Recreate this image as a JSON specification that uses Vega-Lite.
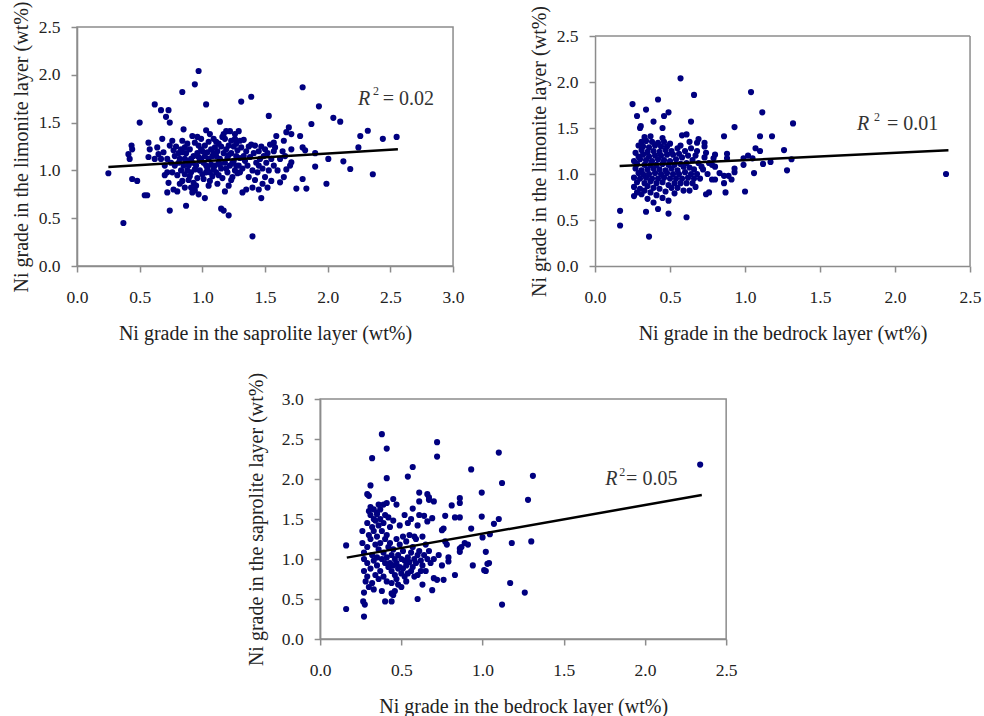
{
"$schema": "https://vega.github.io/schema/vega-lite/v6.json",
"background": "white",
"padding": {"left": 10, "top": 0, "right": 2, "bottom": 2},
"config": {
  "font": "Liberation Serif",
  "view": {"stroke": "#8c8c8c", "strokeWidth": 1.5},
  "axis": {"domainColor": "#8c8c8c", "domainWidth": 1.5, "tickColor": "#8c8c8c", "tickWidth": 1.5, "tickSize": 6, "grid": false,
           "labelFont": "Liberation Serif", "labelFontSize": 17.5, "labelColor": "#222222",
           "titleFont": "Liberation Serif", "titleFontWeight": "normal", "titleColor": "#222222",
           "labelFlush": false, "labelOverlap": false, "format": ".1f"},
  "axisX": {"labelPadding": 16, "titlePadding": 18, "titleFontSize": 20},
  "axisY": {"labelPadding": 11, "titlePadding": 7, "titleFontSize": 20}
},
"datasets": {
  "p1": [
{"x":0.25,"y":0.97},{"x":0.37,"y":0.45},{"x":0.41,"y":1.17},{"x":0.42,"y":1.12},{"x":0.435,"y":1.26},{"x":0.44,"y":1.22},{"x":0.44,"y":0.91},{"x":0.48,"y":0.89},{"x":0.5,"y":1.5},{"x":0.54,"y":0.74},{"x":0.56,"y":0.74},{"x":0.57,"y":1.29},{"x":0.58,"y":1.22},{"x":0.57,"y":1.14},{"x":0.62,"y":1.69},{"x":0.64,"y":1.24},{"x":0.65,"y":1.17},{"x":0.62,"y":1.12},{"x":0.67,"y":1.63},{"x":0.73,"y":1.63},{"x":0.71,"y":1.56},{"x":0.74,"y":1.5},{"x":0.68,"y":1.33},{"x":0.69,"y":1.19},{"x":0.67,"y":1.12},{"x":0.72,"y":1.12},{"x":0.7,"y":1.05},{"x":0.72,"y":0.98},{"x":0.73,"y":0.87},{"x":0.72,"y":0.77},{"x":0.74,"y":0.58},{"x":0.76,"y":1.31},{"x":0.74,"y":1.26},{"x":0.77,"y":1.21},{"x":0.78,"y":1.15},{"x":0.84,"y":1.82},{"x":0.85,"y":1.43},{"x":0.84,"y":1.31},{"x":0.86,"y":1.24},{"x":0.84,"y":1.19},{"x":0.82,"y":1.12},{"x":0.85,"y":1.05},{"x":0.86,"y":0.96},{"x":0.84,"y":0.89},{"x":0.86,"y":0.82},{"x":0.87,"y":0.63},{"x":0.94,"y":1.9},{"x":0.97,"y":2.04},{"x":0.92,"y":1.36},{"x":0.94,"y":1.29},{"x":0.9,"y":1.22},{"x":0.93,"y":1.15},{"x":0.92,"y":1.08},{"x":0.94,"y":1.01},{"x":0.9,"y":0.94},{"x":0.93,"y":0.87},{"x":0.94,"y":0.79},{"x":0.92,"y":0.77},{"x":1.02,"y":0.71},{"x":1.03,"y":1.69},{"x":1.03,"y":1.42},{"x":0.99,"y":1.33},{"x":1.02,"y":1.26},{"x":1.04,"y":1.19},{"x":0.99,"y":1.12},{"x":1.03,"y":1.05},{"x":1.06,"y":0.98},{"x":1.01,"y":0.91},{"x":1.05,"y":0.84},{"x":1.09,"y":1.33},{"x":1.1,"y":1.24},{"x":1.11,"y":1.15},{"x":1.13,"y":1.08},{"x":1.09,"y":1.01},{"x":1.14,"y":1.51},{"x":1.17,"y":1.38},{"x":1.19,"y":1.41},{"x":1.22,"y":1.41},{"x":1.26,"y":1.38},{"x":1.29,"y":1.41},{"x":1.15,"y":1.25},{"x":1.18,"y":1.33},{"x":1.21,"y":1.26},{"x":1.23,"y":1.31},{"x":1.26,"y":1.33},{"x":1.3,"y":1.31},{"x":1.15,"y":0.6},{"x":1.17,"y":0.58},{"x":1.21,"y":0.53},{"x":1.31,"y":1.72},{"x":1.39,"y":1.77},{"x":1.4,"y":0.31},
{"x":0.78,"y":1.05},{"x":0.8,"y":0.95},{"x":0.79,"y":1.25},{"x":0.81,"y":1.08},{"x":0.8,"y":0.78},{"x":0.83,"y":1.0},{"x":0.82,"y":0.86},{"x":0.88,"y":1.1},{"x":0.87,"y":1.18},{"x":0.88,"y":1.0},{"x":0.89,"y":0.9},{"x":0.88,"y":1.28},{"x":0.91,"y":0.82},{"x":0.91,"y":1.12},{"x":0.95,"y":1.05},{"x":0.96,"y":1.18},{"x":0.96,"y":0.92},{"x":0.95,"y":0.84},{"x":0.97,"y":1.26},{"x":0.98,"y":1.0},{"x":0.98,"y":1.1},{"x":0.97,"y":0.75},{"x":1.0,"y":1.2},{"x":1.0,"y":0.96},{"x":1.01,"y":1.08},{"x":1.02,"y":1.15},{"x":1.04,"y":1.02},{"x":1.05,"y":1.12},{"x":1.05,"y":1.3},{"x":1.06,"y":0.89},{"x":1.07,"y":1.06},{"x":1.07,"y":1.22},{"x":1.08,"y":1.15},{"x":1.08,"y":0.94},{"x":1.1,"y":1.05},{"x":1.11,"y":0.98},{"x":1.12,"y":1.2},{"x":1.12,"y":0.86},{"x":1.13,"y":1.28},{"x":1.14,"y":1.12},{"x":1.15,"y":1.02},{"x":1.16,"y":0.92},{"x":1.17,"y":1.18},{"x":1.18,"y":1.08},{"x":1.18,"y":0.78},{"x":1.19,"y":1.22},{"x":1.2,"y":0.98},{"x":1.2,"y":1.13},{"x":1.21,"y":0.84},{"x":1.22,"y":1.05},{"x":1.23,"y":1.18},{"x":1.24,"y":0.93},{"x":1.25,"y":1.1},{"x":1.25,"y":1.25},{"x":1.26,"y":1.0},{"x":1.27,"y":1.15},{"x":1.28,"y":0.97},{"x":1.28,"y":1.21},{"x":1.29,"y":1.05},{"x":1.3,"y":1.13},{"x":1.3,"y":0.98},{"x":1.31,"y":1.24},{"x":1.32,"y":1.02},{"x":1.32,"y":0.77},{"x":1.33,"y":1.32},{"x":1.34,"y":1.1},{"x":1.35,"y":0.8},{"x":1.35,"y":1.2},{"x":1.36,"y":1.05},{"x":1.37,"y":0.93},{"x":1.38,"y":1.14},{"x":1.39,"y":1.27},{"x":1.4,"y":1.0},{"x":1.4,"y":0.82},{"x":1.41,"y":1.18},{"x":1.42,"y":1.26},{"x":1.42,"y":0.9},{"x":1.43,"y":1.08},{"x":1.44,"y":0.98},{"x":1.45,"y":1.2},{"x":1.45,"y":0.8},{"x":1.46,"y":1.12},{"x":1.47,"y":1.25},{"x":1.48,"y":1.02},{"x":1.48,"y":0.86},{"x":1.49,"y":1.15},{"x":1.5,"y":0.93},{"x":1.5,"y":1.22},{"x":1.51,"y":1.08},{"x":1.52,"y":0.82},{"x":1.52,"y":1.18},{"x":1.53,"y":1.0},{"x":1.54,"y":1.27},{"x":1.55,"y":1.12},{"x":1.55,"y":0.89},{"x":1.57,"y":1.05},{"x":1.57,"y":1.2},{"x":1.45,"y":1.05},{"x":1.37,"y":1.25},{"x":1.33,"y":1.15},{"x":1.27,"y":1.05},{"x":1.23,"y":0.9},{"x":1.16,"y":1.35},{"x":1.11,"y":1.3},{"x":1.06,"y":1.38},{"x":0.99,"y":1.22},{"x":0.96,"y":1.35},{"x":0.89,"y":1.05},{"x":0.81,"y":1.18},{"x":0.76,"y":0.98},{"x":0.77,"y":0.8},{"x":0.75,"y":1.08},{"x":0.7,"y":0.95},{"x":1.13,"y":0.95},{"x":1.19,"y":1.02},{"x":1.24,"y":1.08},{"x":1.03,"y":0.98},{"x":0.97,"y":1.14},{"x":0.91,"y":0.98},{"x":0.86,"y":1.12},{"x":0.83,"y":1.22},{"x":1.09,"y":1.18},{"x":1.14,"y":1.06},{"x":1.21,"y":1.16},{"x":1.27,"y":1.28},
{"x":1.53,"y":1.57},{"x":1.87,"y":1.485},{"x":1.93,"y":1.67},{"x":2.045,"y":1.55},{"x":2.1,"y":1.51},{"x":2.32,"y":1.415},{"x":2.26,"y":1.36},{"x":2.44,"y":1.33},{"x":2.55,"y":1.35},{"x":1.69,"y":1.45},{"x":1.67,"y":1.4},{"x":1.71,"y":1.38},{"x":1.78,"y":1.36},{"x":1.59,"y":1.36},{"x":1.57,"y":1.29},{"x":1.58,"y":1.24},{"x":1.65,"y":1.31},{"x":1.8,"y":1.24},{"x":1.82,"y":1.21},{"x":1.71,"y":1.22},{"x":1.64,"y":1.2},{"x":2.245,"y":1.24},{"x":2.005,"y":1.12},{"x":2.125,"y":1.095},{"x":1.9,"y":1.04},{"x":2.18,"y":1.015},{"x":2.36,"y":0.96},{"x":1.8,"y":0.91},{"x":1.99,"y":0.86},{"x":1.75,"y":0.81},{"x":1.83,"y":0.81},{"x":1.47,"y":0.71},{"x":1.7,"y":1.05},{"x":1.67,"y":1.01},{"x":1.71,"y":1.085},{"x":1.65,"y":0.93},{"x":1.62,"y":0.875},{"x":1.9,"y":1.18},{"x":1.8,"y":1.87},{"x":1.62,"y":1.12},{"x":1.6,"y":1.0},{"x":1.66,"y":1.15}
  ],
  "p2": [
{"x":0.167,"y":0.6},{"x":0.167,"y":0.44},{"x":0.36,"y":0.32},{"x":0.34,"y":0.59},{"x":0.42,"y":0.62},{"x":0.49,"y":0.57},{"x":0.61,"y":0.53},{"x":0.57,"y":2.04},{"x":0.66,"y":1.86},{"x":0.42,"y":1.81},{"x":0.25,"y":1.76},{"x":0.34,"y":1.7},{"x":0.28,"y":1.63},{"x":0.46,"y":1.63},{"x":0.49,"y":1.67},{"x":0.39,"y":1.57},{"x":0.64,"y":1.57},{"x":0.3,"y":1.5},{"x":0.305,"y":1.52},{"x":0.45,"y":1.5},{"x":0.58,"y":1.42},{"x":0.61,"y":1.43},{"x":1.04,"y":1.89},{"x":1.115,"y":1.67},{"x":1.32,"y":1.55},{"x":0.93,"y":1.51},{"x":0.86,"y":1.41},{"x":1.1,"y":1.41},{"x":1.18,"y":1.41},{"x":1.26,"y":1.26},{"x":1.1,"y":1.25},{"x":1.07,"y":1.28},{"x":1.02,"y":1.2},{"x":0.99,"y":1.17},{"x":1.05,"y":1.17},{"x":1.12,"y":1.11},{"x":1.17,"y":1.13},{"x":1.31,"y":1.16},{"x":1.28,"y":1.04},{"x":1.06,"y":1.01},{"x":2.34,"y":1.0},{"x":1.0,"y":0.81},{"x":0.87,"y":0.8},{"x":0.74,"y":0.78},{"x":0.76,"y":0.8},{"x":0.93,"y":1.06},{"x":0.93,"y":1.02},{"x":0.91,"y":0.94},{"x":0.86,"y":0.9},{"x":0.88,"y":1.22},{"x":0.88,"y":1.17},{"x":0.8,"y":1.21},{"x":0.79,"y":1.17},{"x":0.8,"y":1.08},{"x":0.78,"y":1.1},{"x":0.74,"y":1.23},{"x":0.73,"y":1.3},{"x":0.73,"y":1.34},{"x":0.69,"y":1.38},{"x":0.68,"y":1.34},{"x":0.78,"y":0.94},{"x":0.83,"y":1.01},{"x":0.86,"y":0.98},{"x":0.99,"y":1.1},{"x":0.89,"y":0.98},{"x":0.8,"y":0.94},
{"x":0.26,"y":0.86},{"x":0.26,"y":0.96},{"x":0.27,"y":1.06},{"x":0.26,"y":1.14},{"x":0.27,"y":1.23},{"x":0.26,"y":0.76},
{"x":0.28,"y":0.91},{"x":0.29,"y":1.01},{"x":0.28,"y":1.11},{"x":0.29,"y":1.19},{"x":0.28,"y":0.8},{"x":0.29,"y":1.31},
{"x":0.3,"y":0.95},{"x":0.31,"y":1.04},{"x":0.3,"y":1.16},{"x":0.31,"y":1.26},{"x":0.3,"y":0.84},{"x":0.31,"y":1.35},{"x":0.31,"y":0.78},
{"x":0.32,"y":1.0},{"x":0.33,"y":1.1},{"x":0.32,"y":1.21},{"x":0.33,"y":0.9},{"x":0.32,"y":1.3},{"x":0.33,"y":0.82},{"x":0.33,"y":1.4},
{"x":0.34,"y":0.96},{"x":0.35,"y":1.05},{"x":0.34,"y":1.15},{"x":0.35,"y":1.24},{"x":0.35,"y":0.87},{"x":0.34,"y":1.36},{"x":0.35,"y":0.73},
{"x":0.36,"y":1.0},{"x":0.37,"y":1.1},{"x":0.36,"y":1.19},{"x":0.37,"y":0.92},{"x":0.36,"y":1.29},{"x":0.37,"y":0.8},{"x":0.37,"y":1.41},
{"x":0.38,"y":0.95},{"x":0.39,"y":1.06},{"x":0.38,"y":1.14},{"x":0.39,"y":1.25},{"x":0.39,"y":0.85},{"x":0.38,"y":1.35},{"x":0.39,"y":0.69},
{"x":0.4,"y":1.01},{"x":0.41,"y":1.1},{"x":0.4,"y":1.2},{"x":0.41,"y":0.9},{"x":0.4,"y":1.31},{"x":0.41,"y":0.77},
{"x":0.42,"y":0.95},{"x":0.43,"y":1.05},{"x":0.42,"y":1.16},{"x":0.43,"y":1.24},{"x":0.43,"y":0.84},{"x":0.42,"y":1.34},
{"x":0.44,"y":1.0},{"x":0.45,"y":1.11},{"x":0.44,"y":1.2},{"x":0.45,"y":0.91},{"x":0.44,"y":1.3},{"x":0.45,"y":0.74},{"x":0.45,"y":1.39},
{"x":0.46,"y":0.96},{"x":0.47,"y":1.04},{"x":0.46,"y":1.15},{"x":0.47,"y":1.26},{"x":0.47,"y":0.81},{"x":0.46,"y":1.35},
{"x":0.48,"y":1.01},{"x":0.49,"y":1.1},{"x":0.48,"y":1.21},{"x":0.49,"y":0.88},{"x":0.48,"y":1.3},{"x":0.49,"y":0.71},
{"x":0.5,"y":0.95},{"x":0.51,"y":1.06},{"x":0.5,"y":1.14},{"x":0.51,"y":1.25},{"x":0.51,"y":0.85},{"x":0.5,"y":1.33},
{"x":0.52,"y":1.0},{"x":0.53,"y":1.1},{"x":0.52,"y":1.21},{"x":0.53,"y":0.9},{"x":0.53,"y":0.79},
{"x":0.54,"y":0.95},{"x":0.55,"y":1.04},{"x":0.54,"y":1.16},{"x":0.55,"y":1.28},{"x":0.55,"y":0.85},
{"x":0.56,"y":1.0},{"x":0.57,"y":1.11},{"x":0.56,"y":1.22},{"x":0.57,"y":0.9},{"x":0.57,"y":1.31},
{"x":0.58,"y":0.95},{"x":0.59,"y":1.08},{"x":0.58,"y":1.18},{"x":0.59,"y":0.82},
{"x":0.6,"y":1.02},{"x":0.61,"y":1.12},{"x":0.6,"y":1.25},{"x":0.61,"y":0.9},
{"x":0.62,"y":0.96},{"x":0.63,"y":1.07},{"x":0.62,"y":1.2},{"x":0.63,"y":0.82},{"x":0.63,"y":1.35},
{"x":0.64,"y":1.0},{"x":0.65,"y":1.15},{"x":0.64,"y":1.28},{"x":0.65,"y":0.9},
{"x":0.66,"y":1.05},{"x":0.67,"y":1.2},{"x":0.66,"y":0.95},{"x":0.67,"y":0.86},
{"x":0.68,"y":1.0},{"x":0.69,"y":1.12},{"x":0.68,"y":1.25},
{"x":0.7,"y":0.95},{"x":0.71,"y":1.08},{"x":0.72,"y":1.05},{"x":0.73,"y":1.18},{"x":0.75,"y":1.0},{"x":0.76,"y":1.12}
  ],
  "p3": [
{"x":0.16,"y":0.375},{"x":0.16,"y":1.17},{"x":0.27,"y":0.28},{"x":0.265,"y":0.47},{"x":0.275,"y":0.43},{"x":0.27,"y":0.58},{"x":0.38,"y":2.56},{"x":0.41,"y":2.38},{"x":0.32,"y":2.26},{"x":0.41,"y":2.01},{"x":0.31,"y":1.92},{"x":0.29,"y":1.81},{"x":0.3,"y":1.79},{"x":0.39,"y":1.68},{"x":0.57,"y":2.15},{"x":0.54,"y":2.03},{"x":0.72,"y":2.46},{"x":0.72,"y":2.28},{"x":0.93,"y":2.12},{"x":1.1,"y":2.33},{"x":1.12,"y":1.95},{"x":1.31,"y":2.04},{"x":2.34,"y":2.18},{"x":1.28,"y":1.74},{"x":1.1,"y":1.5},{"x":1.07,"y":1.44},{"x":0.995,"y":1.83},{"x":0.995,"y":1.53},{"x":1.0,"y":1.27},{"x":1.045,"y":1.31},{"x":1.02,"y":1.09},{"x":1.04,"y":0.95},{"x":1.02,"y":0.85},{"x":1.18,"y":1.2},{"x":1.3,"y":1.22},{"x":1.17,"y":0.7},{"x":1.26,"y":0.58},{"x":1.12,"y":0.43},{"x":0.94,"y":0.92},{"x":0.89,"y":1.2},{"x":0.91,"y":1.18},{"x":0.93,"y":1.38},{"x":0.86,"y":1.09},{"x":0.86,"y":1.13},{"x":0.87,"y":1.15},{"x":0.86,"y":1.76},{"x":0.86,"y":1.7},{"x":0.83,"y":1.52},{"x":0.86,"y":1.52},{"x":0.81,"y":1.67},{"x":0.83,"y":0.8},{"x":0.77,"y":1.54},{"x":0.76,"y":1.38},{"x":0.75,"y":1.36},{"x":0.78,"y":1.18},{"x":0.77,"y":1.22},{"x":0.79,"y":1.02},{"x":0.79,"y":0.97},{"x":0.75,"y":0.92},{"x":0.76,"y":0.74},{"x":0.72,"y":0.74},{"x":0.7,"y":0.76},{"x":0.69,"y":0.61},{"x":0.66,"y":1.81},{"x":0.67,"y":1.77},{"x":0.7,"y":1.72},{"x":0.67,"y":1.74},{"x":0.61,"y":1.83},{"x":0.61,"y":1.72},{"x":0.66,"y":1.47},{"x":0.69,"y":1.51},{"x":0.64,"y":1.54},{"x":0.61,"y":1.55},{"x":0.6,"y":0.5},{"x":0.63,"y":0.68},{"x":0.48,"y":0.68},{"x":0.44,"y":0.57},{"x":0.44,"y":0.47},{"x":0.4,"y":0.47},{"x":1.01,"y":0.86},{"x":1.03,"y":0.94},
{"x":0.27,"y":1.0},{"x":0.26,"y":1.2},{"x":0.27,"y":0.85},{"x":0.28,"y":0.72},{"x":0.26,"y":1.35},{"x":0.27,"y":1.08},
{"x":0.29,"y":1.45},{"x":0.3,"y":1.6},{"x":0.29,"y":0.95},{"x":0.3,"y":0.65},{"x":0.29,"y":1.15},{"x":0.3,"y":1.3},{"x":0.29,"y":0.78},
{"x":0.31,"y":1.55},{"x":0.32,"y":1.4},{"x":0.31,"y":1.25},{"x":0.32,"y":1.05},{"x":0.31,"y":0.88},{"x":0.32,"y":0.7},{"x":0.31,"y":1.65},{"x":0.33,"y":1.5},
{"x":0.33,"y":1.62},{"x":0.34,"y":1.48},{"x":0.33,"y":1.35},{"x":0.34,"y":1.18},{"x":0.33,"y":0.98},{"x":0.34,"y":0.8},{"x":0.33,"y":0.62},{"x":0.35,"y":1.56},
{"x":0.35,"y":1.58},{"x":0.36,"y":1.42},{"x":0.35,"y":1.28},{"x":0.36,"y":1.12},{"x":0.35,"y":0.92},{"x":0.36,"y":0.75},{"x":0.36,"y":1.68},{"x":0.35,"y":1.02},
{"x":0.37,"y":1.5},{"x":0.38,"y":1.35},{"x":0.37,"y":1.2},{"x":0.38,"y":1.0},{"x":0.37,"y":0.85},{"x":0.38,"y":0.6},{"x":0.37,"y":1.62},
{"x":0.39,"y":1.45},{"x":0.4,"y":1.25},{"x":0.39,"y":1.08},{"x":0.4,"y":0.95},{"x":0.39,"y":0.78},{"x":0.4,"y":1.55},{"x":0.41,"y":1.7},
{"x":0.41,"y":1.3},{"x":0.42,"y":1.15},{"x":0.41,"y":1.02},{"x":0.42,"y":0.9},{"x":0.41,"y":0.72},{"x":0.42,"y":1.52},
{"x":0.43,"y":1.2},{"x":0.44,"y":1.05},{"x":0.43,"y":0.95},{"x":0.44,"y":0.85},{"x":0.43,"y":1.4},{"x":0.44,"y":0.7},{"x":0.45,"y":0.55},
{"x":0.45,"y":1.12},{"x":0.46,"y":1.0},{"x":0.45,"y":0.92},{"x":0.46,"y":0.8},{"x":0.45,"y":1.48},{"x":0.45,"y":1.75},{"x":0.46,"y":0.6},
{"x":0.47,"y":1.25},{"x":0.48,"y":1.05},{"x":0.47,"y":0.95},{"x":0.48,"y":0.88},{"x":0.47,"y":0.75},{"x":0.47,"y":1.68},
{"x":0.49,"y":1.18},{"x":0.5,"y":1.0},{"x":0.49,"y":0.9},{"x":0.5,"y":0.82},{"x":0.49,"y":1.42},{"x":0.5,"y":0.65},
{"x":0.51,"y":1.1},{"x":0.52,"y":0.98},{"x":0.51,"y":0.88},{"x":0.52,"y":0.78},{"x":0.51,"y":1.28},{"x":0.52,"y":1.55},
{"x":0.53,"y":1.22},{"x":0.54,"y":1.02},{"x":0.53,"y":0.92},{"x":0.54,"y":0.82},{"x":0.53,"y":0.72},{"x":0.54,"y":1.45},
{"x":0.55,"y":1.3},{"x":0.56,"y":1.08},{"x":0.55,"y":0.96},{"x":0.56,"y":0.85},{"x":0.56,"y":1.5},{"x":0.57,"y":1.63},
{"x":0.57,"y":1.15},{"x":0.58,"y":1.0},{"x":0.57,"y":0.9},{"x":0.58,"y":0.78},{"x":0.58,"y":1.28},
{"x":0.59,"y":1.25},{"x":0.6,"y":1.05},{"x":0.59,"y":0.95},{"x":0.6,"y":0.8},{"x":0.6,"y":1.42},
{"x":0.61,"y":1.1},{"x":0.62,"y":0.98},{"x":0.62,"y":0.85},
{"x":0.63,"y":1.28},{"x":0.64,"y":1.05},{"x":0.63,"y":0.92},
{"x":0.65,"y":1.18},{"x":0.66,"y":1.0},{"x":0.65,"y":0.85},
{"x":0.67,"y":1.1},{"x":0.68,"y":0.95},{"x":0.7,"y":1.0},{"x":0.73,"y":1.05}
  ],
  "lines": [
    {"panel":1,"x":0.25,"y":1.035},{"panel":1,"x":2.56,"y":1.222},
    {"panel":2,"x":0.164,"y":1.087},{"panel":2,"x":2.356,"y":1.257},
    {"panel":3,"x":0.164,"y":1.017},{"panel":3,"x":2.35,"y":1.80}
  ],
  "frame2": [
    {"x":0,"x2":2.5,"y":2.5,"y2":2.5},
    {"x":2.5,"x2":2.5,"y":0,"y2":2.5}
  ],
  "labels": [
    {"panel":1,"kind":"R","x":2.242,"y":1.747,"t":"R"},
    {"panel":1,"kind":"sup","x":2.362,"y":1.83,"t":"2"},
    {"panel":1,"kind":"val","x":2.44,"y":1.747,"t":"= 0.02"},
    {"panel":2,"kind":"R","x":1.747,"y":1.543,"t":"R"},
    {"panel":2,"kind":"sup","x":1.86,"y":1.62,"t":"2"},
    {"panel":2,"kind":"val","x":1.947,"y":1.543,"t":"=  0.01"},
    {"panel":3,"kind":"R","x":1.755,"y":2.0,"t":"R"},
    {"panel":3,"kind":"sup","x":1.841,"y":2.085,"t":"2"},
    {"panel":3,"kind":"val","x":1.884,"y":2.0,"t":"= 0.05"}
  ]
},
"center": true,
"spacing": 26,
"vconcat": [
  {
    "spacing": 64,
    "hconcat": [
      {
        "width": 376, "height": 239,
        "layer": [
          {"data": {"name": "p1"}, "mark": {"type": "circle", "size": 38, "color": "#000080", "opacity": 1},
           "encoding": {
             "x": {"field": "x", "type": "quantitative", "scale": {"domain": [0, 3], "nice": false}, "axis": {"values": [0, 0.5, 1, 1.5, 2, 2.5, 3], "tickCount": 12, "labelOverlap": false, "title": "Ni grade in the saprolite layer (wt%)"}},
             "y": {"field": "y", "type": "quantitative", "scale": {"domain": [0, 2.5], "nice": false}, "axis": {"values": [0, 0.5, 1, 1.5, 2, 2.5], "tickCount": 12, "labelOverlap": false, "title": "Ni grade in the limonite layer (wt%)"}}}},
          {"data": {"name": "lines"}, "transform": [{"filter": "datum.panel == 1"}], "mark": {"type": "line", "color": "#000000", "strokeWidth": 2.5},
           "encoding": {"x": {"field": "x", "type": "quantitative"}, "y": {"field": "y", "type": "quantitative"}}},
          {"data": {"name": "labels"}, "transform": [{"filter": "datum.panel == 1 && datum.kind == 'R'"}], "mark": {"type": "text", "fontSize": 20, "fontStyle": "italic", "align": "left", "baseline": "middle", "color": "#333333"},
           "encoding": {"x": {"field": "x", "type": "quantitative"}, "y": {"field": "y", "type": "quantitative"}, "text": {"field": "t"}}},
          {"data": {"name": "labels"}, "transform": [{"filter": "datum.panel == 1 && datum.kind == 'sup'"}], "mark": {"type": "text", "fontSize": 12, "align": "left", "baseline": "middle", "color": "#333333"},
           "encoding": {"x": {"field": "x", "type": "quantitative"}, "y": {"field": "y", "type": "quantitative"}, "text": {"field": "t"}}},
          {"data": {"name": "labels"}, "transform": [{"filter": "datum.panel == 1 && datum.kind == 'val'"}], "mark": {"type": "text", "fontSize": 20, "align": "left", "baseline": "middle", "color": "#333333"},
           "encoding": {"x": {"field": "x", "type": "quantitative"}, "y": {"field": "y", "type": "quantitative"}, "text": {"field": "t"}}}
        ]
      },
      {
        "width": 375, "height": 239,
        "view": {"stroke": null},
        "layer": [
          {"data": {"name": "p2"}, "mark": {"type": "circle", "size": 38, "color": "#000080", "opacity": 1},
           "encoding": {
             "x": {"field": "x", "type": "quantitative", "scale": {"domain": [0, 2.5], "nice": false}, "axis": {"values": [0, 0.5, 1, 1.5, 2, 2.5], "tickCount": 12, "labelOverlap": false, "title": "Ni grade in the bedrock layer (wt%)"}},
             "y": {"field": "y", "type": "quantitative", "scale": {"domain": [0, 2.5], "range": [239, 9], "nice": false}, "axis": {"values": [0, 0.5, 1, 1.5, 2, 2.5], "tickCount": 12, "labelOverlap": false, "title": "Ni grade in the limonite layer (wt%)"}}}},
          {"data": {"name": "frame2"}, "mark": {"type": "rule", "color": "#8c8c8c", "strokeWidth": 1.5},
           "encoding": {"x": {"field": "x", "type": "quantitative"}, "x2": {"field": "x2"}, "y": {"field": "y", "type": "quantitative"}, "y2": {"field": "y2"}}},
          {"data": {"name": "lines"}, "transform": [{"filter": "datum.panel == 2"}], "mark": {"type": "line", "color": "#000000", "strokeWidth": 2.5},
           "encoding": {"x": {"field": "x", "type": "quantitative"}, "y": {"field": "y", "type": "quantitative"}}},
          {"data": {"name": "labels"}, "transform": [{"filter": "datum.panel == 2 && datum.kind == 'R'"}], "mark": {"type": "text", "fontSize": 20, "fontStyle": "italic", "align": "left", "baseline": "middle", "color": "#333333"},
           "encoding": {"x": {"field": "x", "type": "quantitative"}, "y": {"field": "y", "type": "quantitative"}, "text": {"field": "t"}}},
          {"data": {"name": "labels"}, "transform": [{"filter": "datum.panel == 2 && datum.kind == 'sup'"}], "mark": {"type": "text", "fontSize": 12, "align": "left", "baseline": "middle", "color": "#333333"},
           "encoding": {"x": {"field": "x", "type": "quantitative"}, "y": {"field": "y", "type": "quantitative"}, "text": {"field": "t"}}},
          {"data": {"name": "labels"}, "transform": [{"filter": "datum.panel == 2 && datum.kind == 'val'"}], "mark": {"type": "text", "fontSize": 20, "align": "left", "baseline": "middle", "color": "#333333"},
           "encoding": {"x": {"field": "x", "type": "quantitative"}, "y": {"field": "y", "type": "quantitative"}, "text": {"field": "t"}}}
        ]
      }
    ]
  },
  {
    "width": 406, "height": 240,
    "layer": [
      {"data": {"name": "p3"}, "mark": {"type": "circle", "size": 38, "color": "#000080", "opacity": 1},
       "encoding": {
         "x": {"field": "x", "type": "quantitative", "scale": {"domain": [0, 2.5], "nice": false}, "axis": {"values": [0, 0.5, 1, 1.5, 2, 2.5], "tickCount": 12, "labelOverlap": false, "title": "Ni grade in the bedrock layer (wt%)"}},
         "y": {"field": "y", "type": "quantitative", "scale": {"domain": [0, 3], "nice": false}, "axis": {"values": [0, 0.5, 1, 1.5, 2, 2.5, 3], "tickCount": 12, "labelOverlap": false, "titlePadding": 15, "title": "Ni grade in the saprolite layer (wt%)"}}}},
      {"data": {"name": "lines"}, "transform": [{"filter": "datum.panel == 3"}], "mark": {"type": "line", "color": "#000000", "strokeWidth": 2.5},
       "encoding": {"x": {"field": "x", "type": "quantitative"}, "y": {"field": "y", "type": "quantitative"}}},
      {"data": {"name": "labels"}, "transform": [{"filter": "datum.panel == 3 && datum.kind == 'R'"}], "mark": {"type": "text", "fontSize": 20, "fontStyle": "italic", "align": "left", "baseline": "middle", "color": "#333333"},
       "encoding": {"x": {"field": "x", "type": "quantitative"}, "y": {"field": "y", "type": "quantitative"}, "text": {"field": "t"}}},
      {"data": {"name": "labels"}, "transform": [{"filter": "datum.panel == 3 && datum.kind == 'sup'"}], "mark": {"type": "text", "fontSize": 12, "align": "left", "baseline": "middle", "color": "#333333"},
       "encoding": {"x": {"field": "x", "type": "quantitative"}, "y": {"field": "y", "type": "quantitative"}, "text": {"field": "t"}}},
      {"data": {"name": "labels"}, "transform": [{"filter": "datum.panel == 3 && datum.kind == 'val'"}], "mark": {"type": "text", "fontSize": 20, "align": "left", "baseline": "middle", "color": "#333333"},
       "encoding": {"x": {"field": "x", "type": "quantitative"}, "y": {"field": "y", "type": "quantitative"}, "text": {"field": "t"}}}
    ]
  }
]
}
